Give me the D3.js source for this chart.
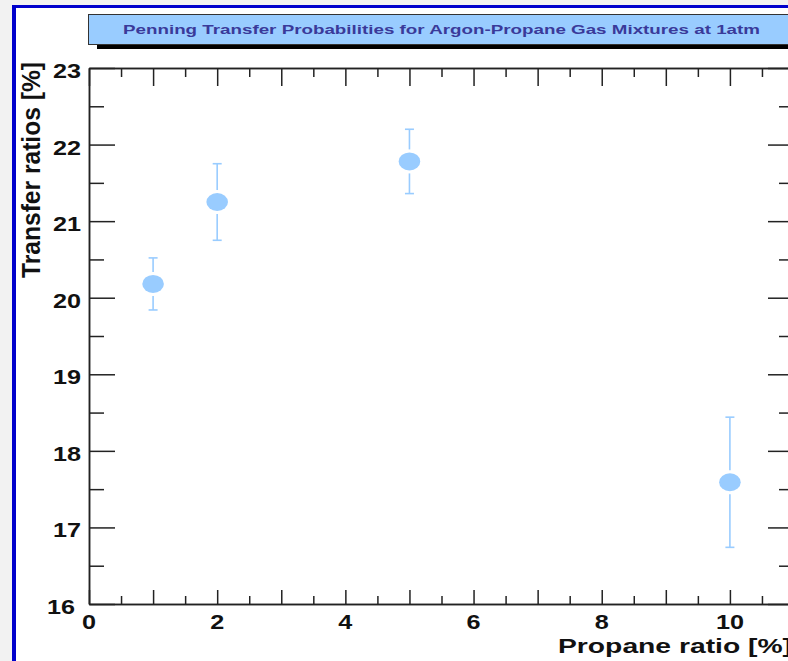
<!DOCTYPE html>
<html lang="en">
<head>
    <meta charset="UTF-8">
    <title>Penning Transfer Probabilities</title>
    <style>
        body { margin: 0; background: #f2f2f2; }
        svg { display: block; }
        text { font-family: "Liberation Sans", Arial, sans-serif; font-weight: bold; }
    </style>
    <script src="https://d3js.org/d3.v7.min.js"></script>
</head>
<body>
    <svg width="788" height="661"></svg>
    <script>
        // data
        const propane = [1, 2, 5, 10];
        const transfer = [20.18, 21.25, 21.78, 17.59];
        const errors = [0.34, 0.5, 0.42, 0.85];
        const xTickLabels = [0, 2, 4, 6, 8, 10];
        const yTickLabels = [16, 17, 18, 19, 20, 21, 22, 23];
        const title = "Penning Transfer Probabilities for Argon-Propane Gas Mixtures at 1atm";

        const svg = d3.select("svg");
        const stretch = 1.2; // the picture is stretched sideways

        // canvas + blue frame
        svg.append("rect").attr("x", 12).attr("y", 5).attr("width", 800).attr("height", 700).attr("fill", "#fff");
        svg.append("rect").attr("x", 12).attr("y", 5).attr("width", 800).attr("height", 3).attr("fill", "#0000cc");
        svg.append("rect").attr("x", 12).attr("y", 5).attr("width", 4).attr("height", 700).attr("fill", "#0000cc");

        // title box with shadow
        svg.append("rect").attr("x", 97).attr("y", 44).attr("width", 720).attr("height", 5).attr("fill", "#000");
        svg.append("rect").attr("x", 88.5).attr("y", 14.5).attr("width", 720).attr("height", 30)
            .attr("fill", "#99ccff").attr("stroke", "#333").attr("stroke-width", 1);
        svg.append("text").attr("x", 123).attr("y", 34)
            .attr("font-size", 13).attr("fill", "#3a3a9a")
            .attr("textLength", 637).attr("lengthAdjust", "spacingAndGlyphs")
            .text(title);

        const x = d3.scaleLinear().domain([0, 11]).range([89, 794]);
        const y = d3.scaleLinear().domain([16, 23]).range([604, 68]);

        const majX = d3.range(0, 12, 1), minX = d3.range(0.5, 11, 1);
        const majY = d3.range(16, 24, 1), minY = d3.range(16.5, 23, 1);

        function drawAxis(axis, tr) {
            const g = svg.append("g").attr("transform", tr).call(axis);
            g.selectAll("text").remove();
            g.selectAll("line, path").attr("stroke", "#222").attr("stroke-width", 1.5);
            return g;
        }

        // bottom
        drawAxis(d3.axisTop(x).tickValues(majX).tickSize(14).tickSizeOuter(0), "translate(0,604)");
        drawAxis(d3.axisTop(x).tickValues(minX).tickSize(8).tickSizeOuter(0), "translate(0,604)");
        // top
        drawAxis(d3.axisBottom(x).tickValues(majX).tickSize(18).tickSizeOuter(0), "translate(0,68)");
        drawAxis(d3.axisBottom(x).tickValues(minX).tickSize(9).tickSizeOuter(0), "translate(0,68)");
        // left
        drawAxis(d3.axisRight(y).tickValues(majY).tickSize(26).tickSizeOuter(0), "translate(89,0)");
        drawAxis(d3.axisRight(y).tickValues(minY).tickSize(15).tickSizeOuter(0), "translate(89,0)");
        // right
        drawAxis(d3.axisLeft(y).tickValues(majY).tickSize(26).tickSizeOuter(0), "translate(794,0)");
        drawAxis(d3.axisLeft(y).tickValues(minY).tickSize(15).tickSizeOuter(0), "translate(794,0)");

        // tick labels
        svg.selectAll(".xlab").data(xTickLabels).join("text")
            .attr("class", "xlab")
            .attr("transform", d => `translate(${x(d)},629) scale(${stretch},1)`)
            .attr("text-anchor", "middle").attr("font-size", 21).attr("fill", "#111")
            .text(d => d);

        svg.selectAll(".ylab").data(yTickLabels).join("text")
            .attr("class", "ylab")
            .attr("transform", d => `translate(${d === 16 ? 75 : 81},${y(d) + 10}) scale(${stretch},1)`)
            .attr("text-anchor", "end").attr("font-size", 21).attr("fill", "#111")
            .text(d => d);

        // axis titles
        svg.append("text")
            .attr("transform", `translate(40,62) scale(${stretch},1) rotate(-90)`)
            .attr("text-anchor", "end").attr("font-size", 21).attr("fill", "#111")
            .attr("textLength", 216).attr("lengthAdjust", "spacingAndGlyphs")
            .text("Transfer ratios [%]");

        svg.append("text")
            .attr("x", 558).attr("y", 653)
            .attr("font-size", 21).attr("fill", "#111")
            .attr("textLength", 234).attr("lengthAdjust", "spacingAndGlyphs")
            .text("Propane ratio [%]");

        // error bars + markers
        const pts = propane.map((p, i) => ({ p, v: transfer[i], e: errors[i] }));
        const col = "#99ccff";
        const ry = 9, gap = 3, cap = 4.5;

        const eb = svg.append("g").attr("stroke", col).attr("stroke-width", 1.6);
        pts.forEach(d => {
            const cx = x(d.p), cy = y(d.v);
            const top = y(d.v + d.e), bot = y(d.v - d.e);
            eb.append("line").attr("x1", cx).attr("x2", cx).attr("y1", top).attr("y2", cy - ry - gap);
            eb.append("line").attr("x1", cx).attr("x2", cx).attr("y1", cy + ry + gap).attr("y2", bot);
            eb.append("line").attr("x1", cx - cap).attr("x2", cx + cap).attr("y1", top).attr("y2", top);
            eb.append("line").attr("x1", cx - cap).attr("x2", cx + cap).attr("y1", bot).attr("y2", bot);
        });

        svg.selectAll(".pt").data(pts).join("ellipse")
            .attr("class", "pt")
            .attr("cx", d => x(d.p)).attr("cy", d => y(d.v))
            .attr("rx", ry * stretch).attr("ry", ry)
            .attr("fill", col);
    </script>
</body>
</html>
